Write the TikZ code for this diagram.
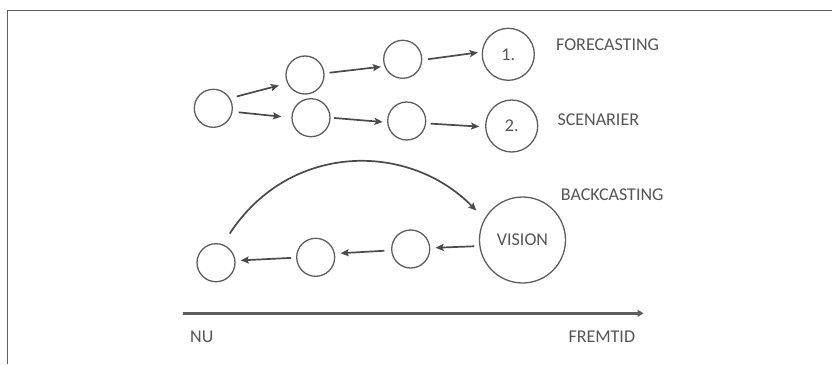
\documentclass[tikz,border=0pt]{standalone}
\usepackage{fontspec}
\setmainfont{Carlito}
\usetikzlibrary{arrows.meta}
\definecolor{ink}{HTML}{4A4A4A}
\definecolor{rim}{HTML}{5E5E5E}
\definecolor{txt}{HTML}{555555}
\begin{document}
\begin{tikzpicture}[x=1pt,y=-1pt,
  state/.style={circle,draw=rim,line width=1.3pt,minimum size=38pt,inner sep=0pt,
    font=\fontsize{18}{20}\selectfont,text=txt},
  goal/.style={state,minimum size=52pt},
  vision/.style={state,minimum size=86pt},
  lbl/.style={anchor=west,inner sep=0pt,font=\fontsize{18}{20}\selectfont,text=txt},
  arr/.style={draw=ink,line width=1.7pt,-{Stealth[length=8pt,width=7pt,inset=1.5pt]}},
  timeline/.style={draw=rim,line width=2.4pt,-{Triangle[length=6pt,width=7pt]}},
  frame/.style={draw=rim,line width=1.5pt}]
\useasboundingbox (0,0) rectangle (832,364);

% outer frame (top and left edges)
\draw[frame] (832,10.5) -- (7.5,10.5) -- (7.5,364);

% forecasting / scenario paths
\node[state] (a)  at (213.3,108.3) {};
\node[state] (b1) at (305,75) {};
\node[state] (b2) at (402.7,59.3) {};
\node[goal]  (f1) at (508.3,54.3) {1.};
\node[state] (c1) at (311,117.7) {};
\node[state] (c2) at (406.7,121) {};
\node[goal]  (f2) at (511.7,126) {2.};

\draw[arr,shorten <=6.7pt,shorten >=8.6pt] (a.31) -- (b1.205);
\draw[arr,shorten <=6pt,shorten >=10.3pt] (a.-10) -- (c1.180);
\draw[arr,shorten <=5pt,shorten >=3.5pt] (b1.5) -- (b2.201);
\draw[arr,shorten <=5.6pt,shorten >=4pt] (b2.-2) -- (f1.175);
\draw[arr,shorten <=3.3pt,shorten >=4.5pt] (c1.0) -- (c2.184);
\draw[arr,shorten <=4.5pt,shorten >=6pt] (c2.-7) -- (f2.182);

\node[lbl] (fc) at (556,45) {FORECASTING};
\node[lbl] (sc) at (557.3,119.7) {SCENARIER};

% backcasting path
\node[state]  (d1) at (216,262.7) {};
\node[state]  (d2) at (315.7,257.3) {};
\node[state]  (d3) at (410.7,249) {};
\node[vision] (v)  at (522.5,240) {VISION};

\draw[arr,shorten <=5pt,shorten >=5.3pt] (v.188) -- (d3.3);
\draw[arr,shorten <=6.8pt,shorten >=5.7pt] (d3.184) -- (d2.11);
\draw[arr,shorten <=5pt,shorten >=5.2pt] (d2.181) -- (d1.6);
\draw[arr,shorten <=12.8pt,shorten >=11.5pt]
  (d1.70) .. controls (290,141.7) and (409,141.7) .. (v.151);

\node[lbl] (bc) at (560.7,195) {BACKCASTING};

% time axis
\node[lbl] (nu) at (190,337) {NU};
\node[lbl] (ft) at (568.3,337) {FREMTID};
\coordinate (t0) at (183.3,313.3);
\coordinate (t1) at (643.5,313.3);
\draw[timeline] (t0) -- (t1);
\end{tikzpicture}
\end{document}
